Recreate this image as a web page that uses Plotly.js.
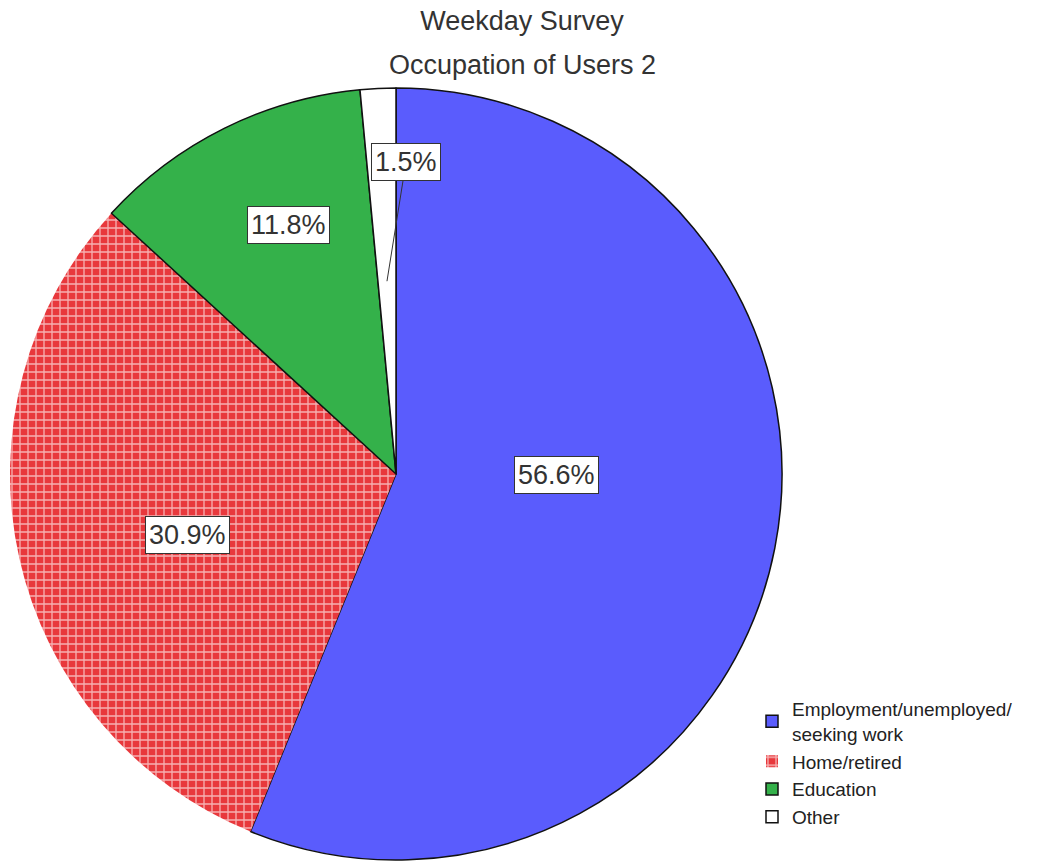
<!DOCTYPE html>
<html>
<head>
<meta charset="utf-8">
<script src="https://cdn.plot.ly/plotly-3.0.1.min.js"></script>
<style>html,body{margin:0;padding:0;background:#fff;}#chart{width:1055px;height:861px;}</style>
</head>
<body>
<div id="chart"></div>
<script>
// ---- data ----
const categories = ["Employment/unemployed/<br>seeking work", "Home/retired", "Education", "Other"];
const percents = [56.6, 30.9, 11.8, 1.5];
const percentLabels = ["56.6%", "30.9%", "11.8%", "1.5%"];

// ---- styles / label placement ----
const sliceColors = ["#5a5cfd", "#e8383c", "#34b14a", "#ffffff"];
const lineColors = ["#111111", "rgba(0,0,0,0)", "#111111", "#111111"];
const patternShapes = ["", "+", "", ""];
const labelRadius = [0.417, 0.563, 0.702, 0.5];
const labelAngleShift = [-10.8, -3.7, 3, 0];
const W = 1055, H = 861;
const domX = [10 / W, 782 / W];
const domY = [1 - 860 / H, 1 - 88 / H];
const FONT = 'Liberation Sans, Arial, sans-serif';

const total = percents.reduce((a, b) => a + b, 0);
const cxPx = (domX[0] + domX[1]) / 2 * W;
const cyPx = (domY[0] + domY[1]) / 2 * H;
const radPx = Math.min((domX[1] - domX[0]) * W, (domY[1] - domY[0]) * H) / 2;

const annotations = [];
let cum = 0;
percents.forEach((v, i) => {
  const mid = (cum + v / 2) / total * 360 + labelAngleShift[i];
  cum += v;
  const th = mid * Math.PI / 180;
  const r = labelRadius[i] * radPx;
  const px = cxPx + r * Math.sin(th);
  const py = cyPx + r * Math.cos(th);
  const a = {
    x: px / W, y: py / H, xref: 'paper', yref: 'paper', xanchor: 'center', yanchor: 'middle',
    text: percentLabels[i], showarrow: false,
    font: {family: FONT, size: 27, color: '#333'},
    bgcolor: '#ffffff', bordercolor: '#333', borderwidth: 1, borderpad: 3
  };
  if (i === 3) {
    a.showarrow = true; a.arrowhead = 0; a.arrowwidth = 1; a.arrowcolor = '#333';
    a.ax = 19; a.ay = -119; a.standoff = 0;
  }
  annotations.push(a);
});
annotations.push({
  x: 522 / W, y: 1 - 65 / H, xref: 'paper', yref: 'paper', showarrow: false,
  xanchor: 'center', yanchor: 'middle',
  text: 'Occupation of Users 2',
  font: {family: FONT, size: 27, color: '#333'}
});

const trace = {
  type: 'pie',
  labels: categories,
  values: percents,
  sort: false,
  direction: 'clockwise',
  rotation: 0,
  textinfo: 'none',
  hoverinfo: 'label+percent',
  domain: {x: domX, y: domY},
  marker: {
    colors: sliceColors,
    line: {color: lineColors, width: 1.5},
    pattern: {shape: patternShapes, fgcolor: 'rgba(255,255,255,0.6)', bgcolor: sliceColors, size: 8, solidity: 0.3}
  }
};

const layout = {
  width: W, height: H,
  margin: {l: 0, r: 0, t: 0, b: 0},
  paper_bgcolor: '#fff',
  title: {text: 'Weekday Survey', x: 522 / W, xanchor: 'center', y: 1 - 21 / H, yanchor: 'middle',
          font: {family: FONT, size: 27, color: '#333'}},
  showlegend: true,
  legend: {x: 752 / W, xanchor: 'left', y: 1 - 690 / H, yanchor: 'top',
           font: {family: FONT, size: 19, color: '#222'},
           bgcolor: 'rgba(0,0,0,0)', traceorder: 'normal'},
  annotations: annotations
};

Plotly.newPlot('chart', [trace], layout, {displayModeBar: false, staticPlot: true});
</script>
</body>
</html>
